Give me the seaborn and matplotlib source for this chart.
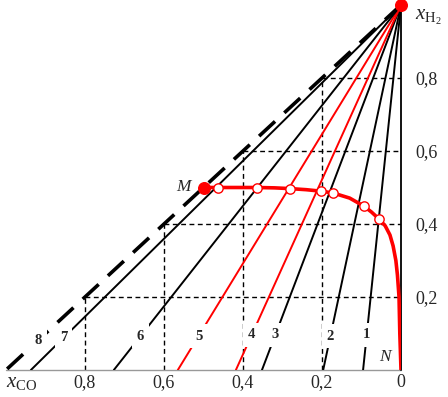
import numpy as np
import pandas as pd
import matplotlib
matplotlib.use("Agg")
import matplotlib.pyplot as plt
import seaborn as sns

# ---- data ----
line_ids = ["1", "2", "3", "4", "5", "6", "7", "8"]
line_ends = [0.096, 0.197, 0.352, 0.418, 0.565, 0.727, 0.937, 1.0]   # x_CO where line meets axis
line_colors = ["black", "black", "black", "red", "red", "black", "black", "black"]
label_y = [0.096, 0.093, 0.096, 0.096, 0.093, 0.093, 0.088, 0.082]

curve_x = [0.0, 0.003, 0.005, 0.009, 0.013, 0.020, 0.028, 0.040, 0.056, 0.075, 0.094, 0.130,
           0.172, 0.203, 0.240, 0.281, 0.320, 0.365, 0.420, 0.463, 0.500]
curve_y = [0.0, 0.100, 0.200, 0.260, 0.300, 0.340, 0.370, 0.395, 0.414, 0.433, 0.449, 0.471,
           0.485, 0.490, 0.494, 0.497, 0.499, 0.500, 0.500, 0.500, 0.500]

circ_x = [0.056, 0.094, 0.172, 0.203, 0.281, 0.365, 0.463]
circ_y = [0.414, 0.449, 0.485, 0.490, 0.497, 0.500, 0.500]

grid_levels = [0.2, 0.4, 0.6, 0.8]
tick_vals = [0.8, 0.6, 0.4, 0.2, 0.0]
xtick_labels = ["0,8", "0,6", "0,4", "0,2", "0"]
ytick_vals = [0.2, 0.4, 0.6, 0.8]
ytick_labels = ["0,2", "0,4", "0,6", "0,8"]

apex = (0.0, 1.0)
point_M = (0.5, 0.5)

# ---- style ----
sns.set_theme(style="white")
plt.rcParams["font.family"] = ["Liberation Serif", "DejaVu Serif"]
plt.rcParams["mathtext.fontset"] = "custom"
plt.rcParams["mathtext.rm"] = "Liberation Serif"
plt.rcParams["mathtext.it"] = "Liberation Serif:italic"

fig = plt.figure(figsize=(4.48, 3.97), dpi=100)
ax = fig.add_axes([6 / 448, 27 / 397, 395 / 448, 365 / 397])
ax.set_xlim(1.0, 0.0)
ax.set_ylim(0.0, 1.0)
for s in ax.spines.values():
    s.set_visible(False)
ax.patch.set_alpha(0)

# staircase dashed grid
for g in grid_levels:
    ax.plot([g, g], [0, 1 - g], color="black", lw=1.0, ls=(0, (3.5, 2.5)), zorder=1)
    ax.plot([1 - g, 0], [g, g], color="black", lw=1.0, ls=(0, (3.5, 2.5)), zorder=1)

# axes lines
ax.plot([1.0, 0.0], [0, 0], color="#999999", lw=1.0, zorder=1, clip_on=False)
ax.plot([0, 0], [0, 1], color="black", lw=1.3, zorder=2, clip_on=False)

# rays from apex
rows = []
for lid, a in zip(line_ids, line_ends):
    rows.append({"id": lid, "x": apex[0], "y": apex[1]})
    rows.append({"id": lid, "x": a, "y": 0.0})
rays = pd.DataFrame(rows)
for lid, a, c, ly in zip(line_ids, line_ends, line_colors, label_y):
    sub = rays[rays["id"] == lid]
    if lid == "8":
        sns.lineplot(data=sub, x="x", y="y", ax=ax, color="black", lw=2.6,
                     sort=False, estimator=None, zorder=3,
                     linestyle=(0, (6, 3.5)))
    else:
        sns.lineplot(data=sub, x="x", y="y", ax=ax, color=c, lw=1.4,
                     sort=False, estimator=None, zorder=3)
    lx = a * (1 - ly)
    ax.text(lx, ly, lid, ha="center", va="center", fontsize=10.5, fontweight="bold",
            zorder=4, bbox=dict(boxstyle="square,pad=0.35", fc="white", ec="none"))

# red curve
curve = pd.DataFrame({"x": curve_x, "y": curve_y})
sns.lineplot(data=curve, x="x", y="y", ax=ax, color="red", lw=2.6, sort=False,
             estimator=None, zorder=5)
circ = pd.DataFrame({"x": circ_x, "y": circ_y})
sns.scatterplot(data=circ, x="x", y="y", ax=ax, s=45, facecolor="white",
                edgecolor="red", linewidth=1.0, zorder=6)
ax.scatter([point_M[0], apex[0]], [point_M[1], apex[1]], s=70, color="red", zorder=7,
           clip_on=False)

# labels
ax.text(0.552, 0.501, "M", style="italic", fontsize=12.5, ha="center", va="center")
ax.text(0.041, 0.036, "N", style="italic", fontsize=12.5, ha="center", va="center")

ax.set_xticks(tick_vals)
ax.set_xticklabels(xtick_labels, fontsize=13)
ax.set_yticks(ytick_vals)
ax.set_yticklabels(ytick_labels, fontsize=13)
ax.yaxis.tick_right()
ax.tick_params(axis="both", length=0, pad=3)
ax.tick_params(axis="y", pad=10)
ax.set_xlabel("")
ax.set_ylabel("")
ax.text(1.0, -0.035, r"$x_{\mathrm{CO}}$", fontsize=15, ha="left", va="center",
        clip_on=False)
ax.text(-0.035, 0.965, r"$x_{\mathrm{H}_2}$", fontsize=15, ha="left", va="center",
        clip_on=False)

fig.savefig("out.png", dpi=100)
